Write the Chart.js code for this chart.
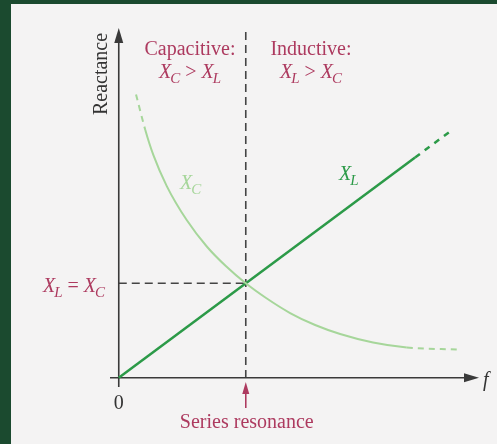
<!DOCTYPE html>
<html lang="en">
<head>
    <meta charset="UTF-8">
    <title>Series resonance: X_L and X_C</title>
    <script src="https://cdn.jsdelivr.net/npm/chart.js"></script>
    <style>
        body { margin: 0; background: #1b4a2f; }
        #paper { position: absolute; left: 11px; top: 4px; right: 0; bottom: 0; background: #f4f3f3; }
        #wrap { position: absolute; left: 0; top: 0; width: 497px; height: 444px; }
    </style>
</head>
<body>
    <div id="paper"></div>
    <div id="wrap"><canvas id="chart" width="497" height="444"></canvas></div>

    <script>
        // frequency in units of the resonant frequency, reactance in units of X at resonance
        const xlF = [0, 2.333, 2.632];
        const xl  = [0, 2.333, 2.632];

        // first and last segments of X_C are drawn dashed
        const xcF = [0.136, 0.209, 0.272, 0.378, 0.535, 0.693, 0.845, 1.0, 1.160, 1.349, 1.546, 1.743, 2.002, 2.268, 2.661];
        const xc  = [3.000, 2.624, 2.360, 2.030, 1.670, 1.390, 1.180, 1.0, 0.844, 0.685, 0.558, 0.463, 0.373, 0.320, 0.299];

        const resonanceF = 1.0;
        const resonanceX = 1.0;

        const green = '#2c9a48';
        const lightGreen = '#a6d69a';
        const crimson = '#ad3a5f';
        const grey = '#444444';

        function pts(xs, ys) {
            return xs.map((x, i) => ({ x: x, y: ys[i] }));
        }

        // X with an italic subscript, drawn from a left edge
        function subX(ctx, sub, x, y) {
            ctx.font = 'italic 20px "Liberation Serif"';
            ctx.fillText('X', x, y);
            let w = ctx.measureText('X').width;
            ctx.font = 'italic 15px "Liberation Serif"';
            ctx.fillText(sub, x + w - 1, y + 5);
            return w - 1 + ctx.measureText(sub).width;
        }

        function subXWidth(ctx, sub) {
            ctx.font = 'italic 20px "Liberation Serif"';
            let w = ctx.measureText('X').width;
            ctx.font = 'italic 15px "Liberation Serif"';
            return w - 1 + ctx.measureText(sub).width;
        }

        // "X_a op X_b" centred on cx
        function relation(ctx, a, op, b, cx, y) {
            let gap = 5;
            ctx.font = '20px "Liberation Serif"';
            let opW = ctx.measureText(op).width;
            let total = subXWidth(ctx, a) + opW + 2 * gap + subXWidth(ctx, b);
            let x = cx - total / 2;
            x += subX(ctx, a, x, y) + gap;
            ctx.font = '20px "Liberation Serif"';
            ctx.fillText(op, x, y);
            x += opW + gap;
            subX(ctx, b, x, y);
        }

        function dashEnds(n, dash) {
            return ctx => (ctx.p0DataIndex === 0 || ctx.p1DataIndex === n - 1) ? dash : undefined;
        }

        const guides = {
            id: 'guides',
            beforeDatasetsDraw(chart) {
                const ctx = chart.ctx;
                const sx = chart.scales.x, sy = chart.scales.y;
                let x0 = sx.getPixelForValue(0), y0 = sy.getPixelForValue(0);
                let xr = sx.getPixelForValue(resonanceF), yr = sy.getPixelForValue(resonanceX);

                ctx.save();
                // dashed guides
                ctx.strokeStyle = grey;
                ctx.lineWidth = 1.6;
                ctx.setLineDash([8, 5]);
                ctx.beginPath();
                ctx.moveTo(xr, 32);
                ctx.lineTo(xr, y0);
                ctx.moveTo(x0, yr);
                ctx.lineTo(xr, yr);
                ctx.stroke();
                ctx.setLineDash([]);

                // axes
                ctx.strokeStyle = '#3a3a3a';
                ctx.fillStyle = '#3a3a3a';
                ctx.lineWidth = 1.6;
                ctx.beginPath();
                ctx.moveTo(x0, 387);
                ctx.lineTo(x0, 40);
                ctx.moveTo(110, y0);
                ctx.lineTo(468, y0);
                ctx.stroke();
                ctx.beginPath();
                ctx.moveTo(x0, 28);
                ctx.lineTo(x0 - 4.5, 43);
                ctx.lineTo(x0 + 4.5, 43);
                ctx.closePath();
                ctx.fill();
                ctx.beginPath();
                ctx.moveTo(479, y0);
                ctx.lineTo(464, y0 - 4.5);
                ctx.lineTo(464, y0 + 4.5);
                ctx.closePath();
                ctx.fill();
                ctx.restore();
            },
            afterDatasetsDraw(chart) {
                const ctx = chart.ctx;
                const sx = chart.scales.x, sy = chart.scales.y;
                let x0 = sx.getPixelForValue(0), y0 = sy.getPixelForValue(0);
                let xr = sx.getPixelForValue(resonanceF);

                ctx.save();
                ctx.textBaseline = 'alphabetic';

                // axis texts
                ctx.fillStyle = '#333333';
                ctx.font = '20px "Liberation Serif"';
                ctx.textAlign = 'center';
                ctx.fillText('0', x0, 409);
                ctx.font = 'italic 20px "Liberation Serif"';
                ctx.textAlign = 'left';
                ctx.fillText('f', 483, 386);
                ctx.save();
                ctx.translate(107, 74);
                ctx.rotate(-Math.PI / 2);
                ctx.textAlign = 'center';
                ctx.font = '20px "Liberation Serif"';
                ctx.fillText('Reactance', 0, 0);
                ctx.restore();

                // regions
                ctx.fillStyle = crimson;
                ctx.textAlign = 'center';
                ctx.font = '20px "Liberation Serif"';
                ctx.fillText('Capacitive:', 190, 55);
                ctx.fillText('Inductive:', 311, 55);
                ctx.textAlign = 'left';
                relation(ctx, 'C', '>', 'L', 190, 78);
                relation(ctx, 'L', '>', 'C', 311, 78);
                relation(ctx, 'L', '=', 'C', 74, 292);

                // resonance arrow
                ctx.strokeStyle = crimson;
                ctx.lineWidth = 1.6;
                ctx.beginPath();
                ctx.moveTo(xr, 392);
                ctx.lineTo(xr, 408);
                ctx.stroke();
                ctx.beginPath();
                ctx.moveTo(xr, 382);
                ctx.lineTo(xr - 3.5, 394);
                ctx.lineTo(xr + 3.5, 394);
                ctx.closePath();
                ctx.fill();
                ctx.textAlign = 'center';
                ctx.font = '20px "Liberation Serif"';
                ctx.fillText('Series resonance', xr + 1, 428);

                // curve labels
                ctx.textAlign = 'left';
                ctx.fillStyle = green;
                subX(ctx, 'L', 339, 180);
                ctx.fillStyle = lightGreen;
                subX(ctx, 'C', 180, 189);
                ctx.restore();
            }
        };

        new Chart(document.getElementById('chart'), {
            type: 'scatter',
            data: {
                datasets: [
                    {
                        label: 'XC', data: pts(xcF, xc), showLine: true, borderColor: lightGreen, borderWidth: 2,
                        pointRadius: 0, cubicInterpolationMode: 'monotone',
                        segment: { borderDash: dashEnds(xcF.length, [6, 5]) }
                    },
                    {
                        label: 'XL', data: pts(xlF, xl), showLine: true, borderColor: green, borderWidth: 2.5,
                        pointRadius: 0,
                        segment: { borderDash: ctx => ctx.p0DataIndex === 1 ? [6, 6] : undefined }
                    }
                ]
            },
            options: {
                responsive: false,
                animation: false,
                layout: { padding: 0 },
                plugins: { legend: { display: false }, tooltip: { enabled: false } },
                scales: {
                    x: { type: 'linear', display: false, min: -0.935, max: 2.978 },
                    y: { type: 'linear', display: false, min: -0.702, max: 4.001 }
                }
            },
            plugins: [guides]
        });
    </script>
</body>
</html>
